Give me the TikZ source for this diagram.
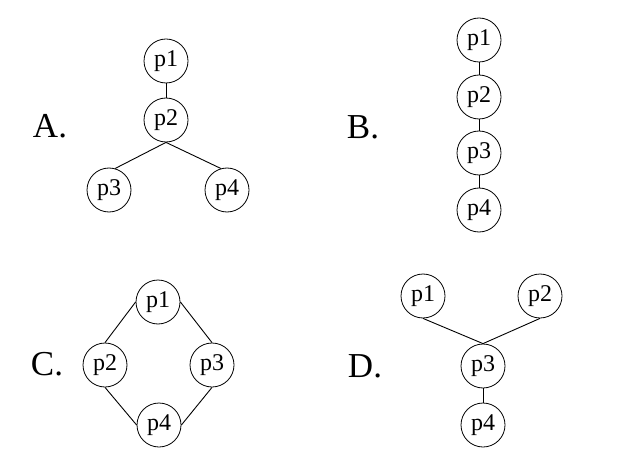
\documentclass[tikz,border=0pt]{standalone}
\usepackage{fontspec}
\setmainfont{Liberation Serif}
\usetikzlibrary{positioning}

\tikzset{
  proc/.style={draw, circle, line width=0.8pt, minimum size=44pt, inner sep=0pt,
    font=\fontsize{24}{26}\selectfont},
  opt/.style={font=\fontsize{35}{38}\selectfont},
  link/.style={line width=0.9pt}
}

\begin{document}
\begin{tikzpicture}[x=1pt, y=-1pt]
\useasboundingbox (0,0) rectangle (620,462);

% A
\node[opt] (optA) at (50,126) {A.};
\node[proc] (a1) at (166,61) {p1};
\node[proc] (a2) at (166,120) {p2};
\node[proc] (a3) at (109,190) {p3};
\node[proc] (a4) at (227,190) {p4};
\draw[link] (a1) -- (a2);
\draw[link] (a2.south) -- (a3.74);
\draw[link] (a2.south) -- (a4.106);

% B
\node[opt] (optB) at (363,127) {B.};
\node[proc] (b1) at (479,40) {p1};
\node[proc] (b2) at (479,97) {p2};
\node[proc] (b3) at (479,153) {p3};
\node[proc] (b4) at (479,210) {p4};
\draw[link] (b1) -- (b2);
\draw[link] (b2) -- (b3);
\draw[link] (b3) -- (b4);

% C
\node[opt] (optC) at (47,364) {C.};
\node[proc] (c1) at (158,302) {p1};
\node[proc] (c2) at (105,365) {p2};
\node[proc] (c3) at (212,365) {p3};
\node[proc] (c4) at (159,425) {p4};
\draw[link] (c1.west) -- (c2.north);
\draw[link] (c1.east) -- (c3.north);
\draw[link] (c2.south) -- (c4.west);
\draw[link] (c3.south) -- (c4.east);

% D
\node[opt] (optD) at (365,366) {D.};
\node[proc] (d1) at (423,296) {p1};
\node[proc] (d2) at (540,296) {p2};
\node[proc] (d3) at (483,366) {p3};
\node[proc] (d4) at (483,425) {p4};
\draw[link] (d1.south) -- (d3.north);
\draw[link] (d2.south) -- (d3.north);
\draw[link] (d3) -- (d4);
\end{tikzpicture}
\end{document}
